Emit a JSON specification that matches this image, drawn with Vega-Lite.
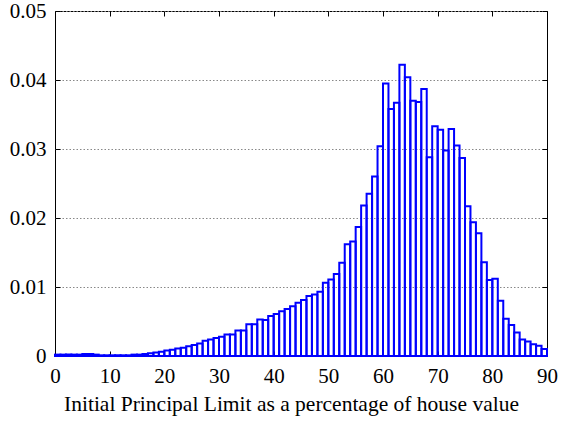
{
  "$schema": "https://vega.github.io/schema/vega-lite/v6.json",
  "width": 492,
  "height": 345,
  "autosize": "none",
  "padding": {"left": 55, "top": 11, "right": 14, "bottom": 67},
  "background": "white",
  "config": {
    "view": {"stroke": "black", "strokeWidth": 1},
    "font": "Times New Roman",
    "axis": {
      "labelFont": "Times New Roman",
      "titleFont": "Times New Roman",
      "labelFontSize": 21,
      "titleFontSize": 21.5,
      "titleFontWeight": "normal",
      "labelColor": "black",
      "titleColor": "black",
      "domain": false,
      "tickColor": "black",
      "tickSize": -5
    }
  },
  "data": {
    "values": [
      {"start": 0, "end": 1, "density": 0.0002},
      {"start": 1, "end": 2, "density": 0.0002},
      {"start": 2, "end": 3, "density": 0.0002},
      {"start": 3, "end": 4, "density": 0.0002},
      {"start": 4, "end": 5, "density": 0.0002},
      {"start": 5, "end": 6, "density": 0.0003},
      {"start": 6, "end": 7, "density": 0.0003},
      {"start": 7, "end": 8, "density": 0.0002},
      {"start": 8, "end": 9, "density": 0.0001},
      {"start": 9, "end": 10, "density": 0.0001},
      {"start": 10, "end": 11, "density": 0.0001},
      {"start": 11, "end": 12, "density": 0.0001},
      {"start": 12, "end": 13, "density": 0.0001},
      {"start": 13, "end": 14, "density": 0.0001},
      {"start": 14, "end": 15, "density": 0.0002},
      {"start": 15, "end": 16, "density": 0.0002},
      {"start": 16, "end": 17, "density": 0.0003},
      {"start": 17, "end": 18, "density": 0.0004},
      {"start": 18, "end": 19, "density": 0.0005},
      {"start": 19, "end": 20, "density": 0.0006},
      {"start": 20, "end": 21, "density": 0.0008},
      {"start": 21, "end": 22, "density": 0.0009},
      {"start": 22, "end": 23, "density": 0.0011},
      {"start": 23, "end": 24, "density": 0.0012},
      {"start": 24, "end": 25, "density": 0.0014},
      {"start": 25, "end": 26, "density": 0.0016},
      {"start": 26, "end": 27, "density": 0.0018},
      {"start": 27, "end": 28, "density": 0.0022},
      {"start": 28, "end": 29, "density": 0.0024},
      {"start": 29, "end": 30, "density": 0.0026},
      {"start": 30, "end": 31, "density": 0.0028},
      {"start": 31, "end": 32, "density": 0.0031},
      {"start": 32, "end": 33, "density": 0.0031},
      {"start": 33, "end": 34, "density": 0.0037},
      {"start": 34, "end": 35, "density": 0.0037},
      {"start": 35, "end": 36, "density": 0.0046},
      {"start": 36, "end": 37, "density": 0.0046},
      {"start": 37, "end": 38, "density": 0.0053},
      {"start": 38, "end": 39, "density": 0.0052},
      {"start": 39, "end": 40, "density": 0.0058},
      {"start": 40, "end": 41, "density": 0.0061},
      {"start": 41, "end": 42, "density": 0.0065},
      {"start": 42, "end": 43, "density": 0.0068},
      {"start": 43, "end": 44, "density": 0.0072},
      {"start": 44, "end": 45, "density": 0.0077},
      {"start": 45, "end": 46, "density": 0.0081},
      {"start": 46, "end": 47, "density": 0.0087},
      {"start": 47, "end": 48, "density": 0.0089},
      {"start": 48, "end": 49, "density": 0.0093},
      {"start": 49, "end": 50, "density": 0.0106},
      {"start": 50, "end": 51, "density": 0.0111},
      {"start": 51, "end": 52, "density": 0.0119},
      {"start": 52, "end": 53, "density": 0.0135},
      {"start": 53, "end": 54, "density": 0.0162},
      {"start": 54, "end": 55, "density": 0.0166},
      {"start": 55, "end": 56, "density": 0.0187},
      {"start": 56, "end": 57, "density": 0.0218},
      {"start": 57, "end": 58, "density": 0.0235},
      {"start": 58, "end": 59, "density": 0.026},
      {"start": 59, "end": 60, "density": 0.0304},
      {"start": 60, "end": 61, "density": 0.0395},
      {"start": 61, "end": 62, "density": 0.0358},
      {"start": 62, "end": 63, "density": 0.0367},
      {"start": 63, "end": 64, "density": 0.0422},
      {"start": 64, "end": 65, "density": 0.0404},
      {"start": 65, "end": 66, "density": 0.037},
      {"start": 66, "end": 67, "density": 0.0368},
      {"start": 67, "end": 68, "density": 0.0387},
      {"start": 68, "end": 69, "density": 0.0288},
      {"start": 69, "end": 70, "density": 0.0333},
      {"start": 70, "end": 71, "density": 0.0328},
      {"start": 71, "end": 72, "density": 0.0298},
      {"start": 72, "end": 73, "density": 0.0329},
      {"start": 73, "end": 74, "density": 0.0305},
      {"start": 74, "end": 75, "density": 0.0287},
      {"start": 75, "end": 76, "density": 0.0217},
      {"start": 76, "end": 77, "density": 0.0194},
      {"start": 77, "end": 78, "density": 0.0178},
      {"start": 78, "end": 79, "density": 0.0136},
      {"start": 79, "end": 80, "density": 0.011},
      {"start": 80, "end": 81, "density": 0.0112},
      {"start": 81, "end": 82, "density": 0.008},
      {"start": 82, "end": 83, "density": 0.0054},
      {"start": 83, "end": 84, "density": 0.0045},
      {"start": 84, "end": 85, "density": 0.0034},
      {"start": 85, "end": 86, "density": 0.0024},
      {"start": 86, "end": 87, "density": 0.0021},
      {"start": 87, "end": 88, "density": 0.0017},
      {"start": 88, "end": 89, "density": 0.0015},
      {"start": 89, "end": 90, "density": 0.001}
    ]
  },
  "layer": [
    {
      "mark": {"type": "bar", "fill": "white", "fillOpacity": 0, "stroke": "#0000ff", "strokeWidth": 2},
      "encoding": {
        "x": {
          "field": "start", "type": "quantitative",
          "scale": {"domain": [0, 90], "nice": false},
          "axis": {
            "orient": "bottom", "values": [0, 10, 20, 30, 40, 50, 60, 70, 80, 90],
            "title": "Initial Principal Limit as a percentage of house value",
            "grid": false, "labelPadding": 14, "titlePadding": 7,
            "titleX": 236, "titleAlign": "center", "titleAnchor": null,
            "labelFlush": false
          }
        },
        "x2": {"field": "end"},
        "y": {
          "field": "density", "type": "quantitative",
          "scale": {"domain": [0, 0.05], "nice": false},
          "axis": {
            "orient": "left", "values": [0, 0.01, 0.02, 0.03, 0.04, 0.05],
            "format": "~g", "title": null,
            "grid": true, "gridColor": "#888888", "gridDash": [1.5, 2], "gridWidth": 1,
            "labelPadding": 14, "labelFlush": false
          }
        },
        "y2": {"datum": 0}
      }
    },
    {
      "mark": {"type": "bar", "fillOpacity": 0, "strokeOpacity": 0},
      "encoding": {
        "x": {
          "field": "start", "type": "quantitative",
          "axis": {"orient": "top", "values": [0, 10, 20, 30, 40, 50, 60, 70, 80, 90], "labels": false, "title": null, "grid": false}
        },
        "x2": {"field": "end"},
        "y": {
          "field": "density", "type": "quantitative",
          "axis": {"orient": "right", "values": [0, 0.01, 0.02, 0.03, 0.04, 0.05], "labels": false, "title": null, "grid": false}
        },
        "y2": {"datum": 0}
      }
    }
  ],
  "resolve": {"axis": {"x": "independent", "y": "independent"}}
}
